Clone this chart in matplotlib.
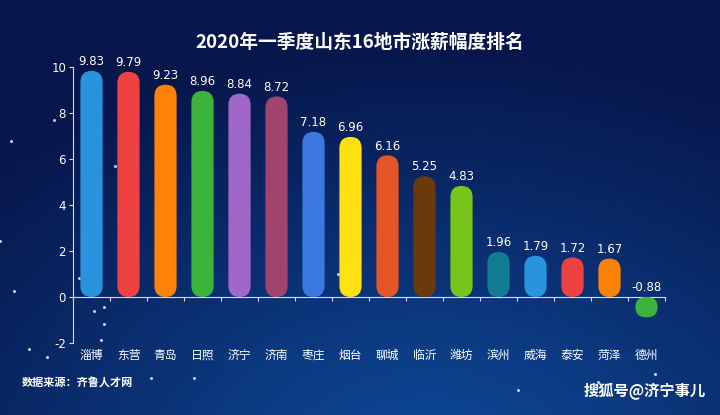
import numpy as np
import matplotlib
matplotlib.use("Agg")
import matplotlib.pyplot as plt
from matplotlib.patches import FancyBboxPatch
import matplotlib.transforms as mtransforms

plt.rcParams['font.family'] = ['Noto Sans CJK SC', 'DejaVu Sans']

cities = ["淄博", "东营", "青岛", "日照", "济宁", "济南", "枣庄", "烟台",
          "聊城", "临沂", "潍坊", "滨州", "威海", "泰安", "菏泽", "德州"]
values = [9.83, 9.79, 9.23, 8.96, 8.84, 8.72, 7.18, 6.96,
          6.16, 5.25, 4.83, 1.96, 1.79, 1.72, 1.67, -0.88]
colors = ["#2a93dd", "#ee4242", "#ff8208", "#3cb43c", "#a066c8", "#a0446e",
          "#3b78e0", "#ffe010", "#e55526", "#6a3a0c", "#78c51c", "#127d92",
          "#2a93dd", "#ee4242", "#ff8208", "#3cb43c"]
yticks = [-2, 0, 2, 4, 6, 8, 10]
title = "2020年一季度山东16地市涨薪幅度排名"
source = "数据来源：齐鲁人才网"
watermark = "搜狐号@济宁事儿"

W, H = 720, 415
fig = plt.figure(figsize=(W / 100, H / 100), dpi=100)

# background gradient
bg = fig.add_axes([0, 0, 1, 1], zorder=0)
bg.set_axis_off()
yy, xx = np.mgrid[0:H, 0:W]
d = np.sqrt(((xx - 430) / 620.0) ** 2 + ((yy - 470) / 420.0) ** 2)
t = np.clip(d, 0, 1)
c_in = np.array([0x0e, 0x4c, 0x9c]) / 255.0
c_out = np.array([0x07, 0x17, 0x4c]) / 255.0
img = c_in[None, None, :] * (1 - t[..., None]) + c_out[None, None, :] * t[..., None]
bg.imshow(img, extent=[0, 1, 0, 1], aspect='auto', origin='upper')
bg.set_xlim(0, 1)
bg.set_ylim(0, 1)
stars = [(0.015, 0.66), (0.075, 0.71), (0.16, 0.60), (0.125, 0.45), (0.0, 0.42),
         (0.11, 0.33), (0.13, 0.25), (0.145, 0.26), (0.145, 0.22), (0.02, 0.30),
         (0.04, 0.16), (0.065, 0.14), (0.14, 0.18), (0.21, 0.09), (0.27, 0.09),
         (0.83, 0.08), (0.72, 0.06), (0.91, 0.10), (0.47, 0.34)]
bg.scatter([s[0] for s in stars], [s[1] for s in stars], s=5, color="white",
           alpha=0.75, linewidths=0)

ax = fig.add_axes([73 / W, 72 / H, (665 - 73) / W, (343 - 67) / H], zorder=2)
ax.set_facecolor("none")
ax.set_xlim(-0.5, len(cities) - 0.5)
ax.set_ylim(-2, 10)
fig.canvas.draw()

# pixel scales
p0 = ax.transData.transform((0, 0))
p1 = ax.transData.transform((1, 1))
px_x = p1[0] - p0[0]
px_y = p1[1] - p0[1]
aspect = px_x / px_y

bw = 0.6
for i, (v, c) in enumerate(zip(values, colors)):
    h = abs(v)
    y0 = min(v, 0)
    r = min(bw / 2, h / 2 / aspect)
    patch = FancyBboxPatch((i - bw / 2, y0), bw, h,
                           boxstyle=f"round,pad=0,rounding_size={r}",
                           mutation_aspect=aspect, facecolor=c, edgecolor="none", zorder=3)
    ax.add_patch(patch)
    ax.annotate(f"{v:.2f}", (i, max(v, 0)), xytext=(0, 2), textcoords="offset points",
                ha="center", va="bottom", color="white", fontsize=8.5,
                family="DejaVu Sans")

for s in ["top", "right"]:
    ax.spines[s].set_visible(False)
ax.spines["left"].set_color("#d8dce8")
ax.spines["bottom"].set_color("#d8dce8")
ax.spines["bottom"].set_position(("data", 0))
ax.set_yticks(yticks)
ax.set_yticklabels([str(y) for y in yticks], color="white", fontsize=8.5, family="DejaVu Sans")
ax.tick_params(axis="y", colors="#d8dce8", labelcolor="white", length=3, pad=2)
ax.set_xticks(np.arange(len(cities) + 1) - 0.5)
ax.set_xticklabels([])
ax.tick_params(axis="x", colors="#d8dce8", length=3, direction="out")

trans = mtransforms.blended_transform_factory(ax.transData, ax.transAxes)
for i, name in enumerate(cities):
    ax.annotate(name, (i, 0), xycoords=trans, xytext=(0, -4), textcoords="offset points",
                ha="center", va="top", color="white", fontsize=8.5)

fig.text(0.5, 1 - 42 / H, title, ha="center", va="center", color="white",
         fontsize=13.5, fontweight="bold")
fig.text(22 / W, 1 - 383 / H, source, ha="left", va="center", color="white",
         fontsize=8, fontweight="bold")
fig.text(706 / W, 1 - 391 / H, watermark, ha="right", va="center", color="white",
         fontsize=11, fontweight="bold")

fig.savefig("out.png", dpi=100)
